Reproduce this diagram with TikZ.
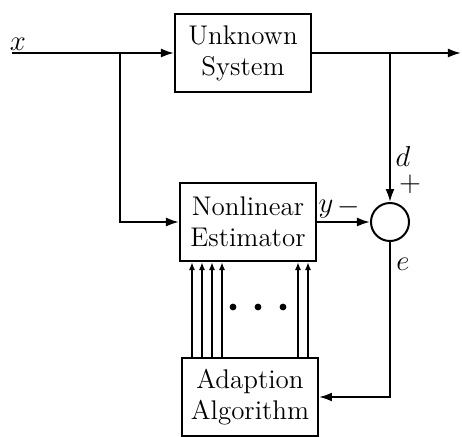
\documentclass[tikz,border=0pt]{standalone}
\usepackage{tikz}
\usetikzlibrary{arrows.meta,positioning}

\begin{document}
\begin{tikzpicture}[x=0.5pt,y=-0.5pt,line width=1pt,
font=\fontsize{13.5}{15.5}\selectfont,
blockbox/.style={draw,line width=1pt,align=center,minimum width=68pt,minimum height=39pt,inner sep=2pt},
sumnode/.style={draw,line width=1pt,circle,minimum size=19pt,inner sep=0pt},
lbl/.style={inner sep=0.5pt},
arr/.style={-{Latex[length=6.5pt,width=4.5pt]}},
thinarr/.style={-{Latex[length=4pt,width=3pt]},line width=0.9pt}]
\useasboundingbox (0,0) rectangle (462,436);
\node[blockbox](sys) at (243,53){Unknown\\System};
\node[blockbox](est) at (248,222){Nonlinear\\Estimator};
\node[blockbox](adapt) at (250,397){Adaption\\Algorithm};
\node[sumnode](sum) at (390,222){};
\coordinate (in) at (12,53);
\coordinate (b1) at (120,53);
\coordinate (b2) at (390,53);
\coordinate (out) at (461,53);
\draw[arr](in)--(sys.west);
\draw[arr](sys.east)--(out);
\draw[arr](b1)|-(est.west);
\draw[arr](b2)--(sum.north);
\draw[arr](est.east)--(sum.west);
\draw[arr](sum.south)|-(adapt.east);
\foreach \dx in {-29,-24,-19,-14,24,29}
  \draw[thinarr]([xshift=\dx pt]adapt.north)--([xshift=\dx pt]adapt.north|-est.south);
\foreach \px in {233,258,283}
  \fill (\px,307) circle (1.7pt);
\node[lbl] (xlab) at (18,44){$x$};
\node[lbl] (ylab) at (326,209){$y$};
\node[lbl] (minus) at (349,207){$-$};
\node[lbl] (dlab) at (403,156){$d$};
\node[lbl] (plus) at (410,184){$+$};
\node[lbl] (elab) at (403,264){$e$};
\end{tikzpicture}
\end{document}
